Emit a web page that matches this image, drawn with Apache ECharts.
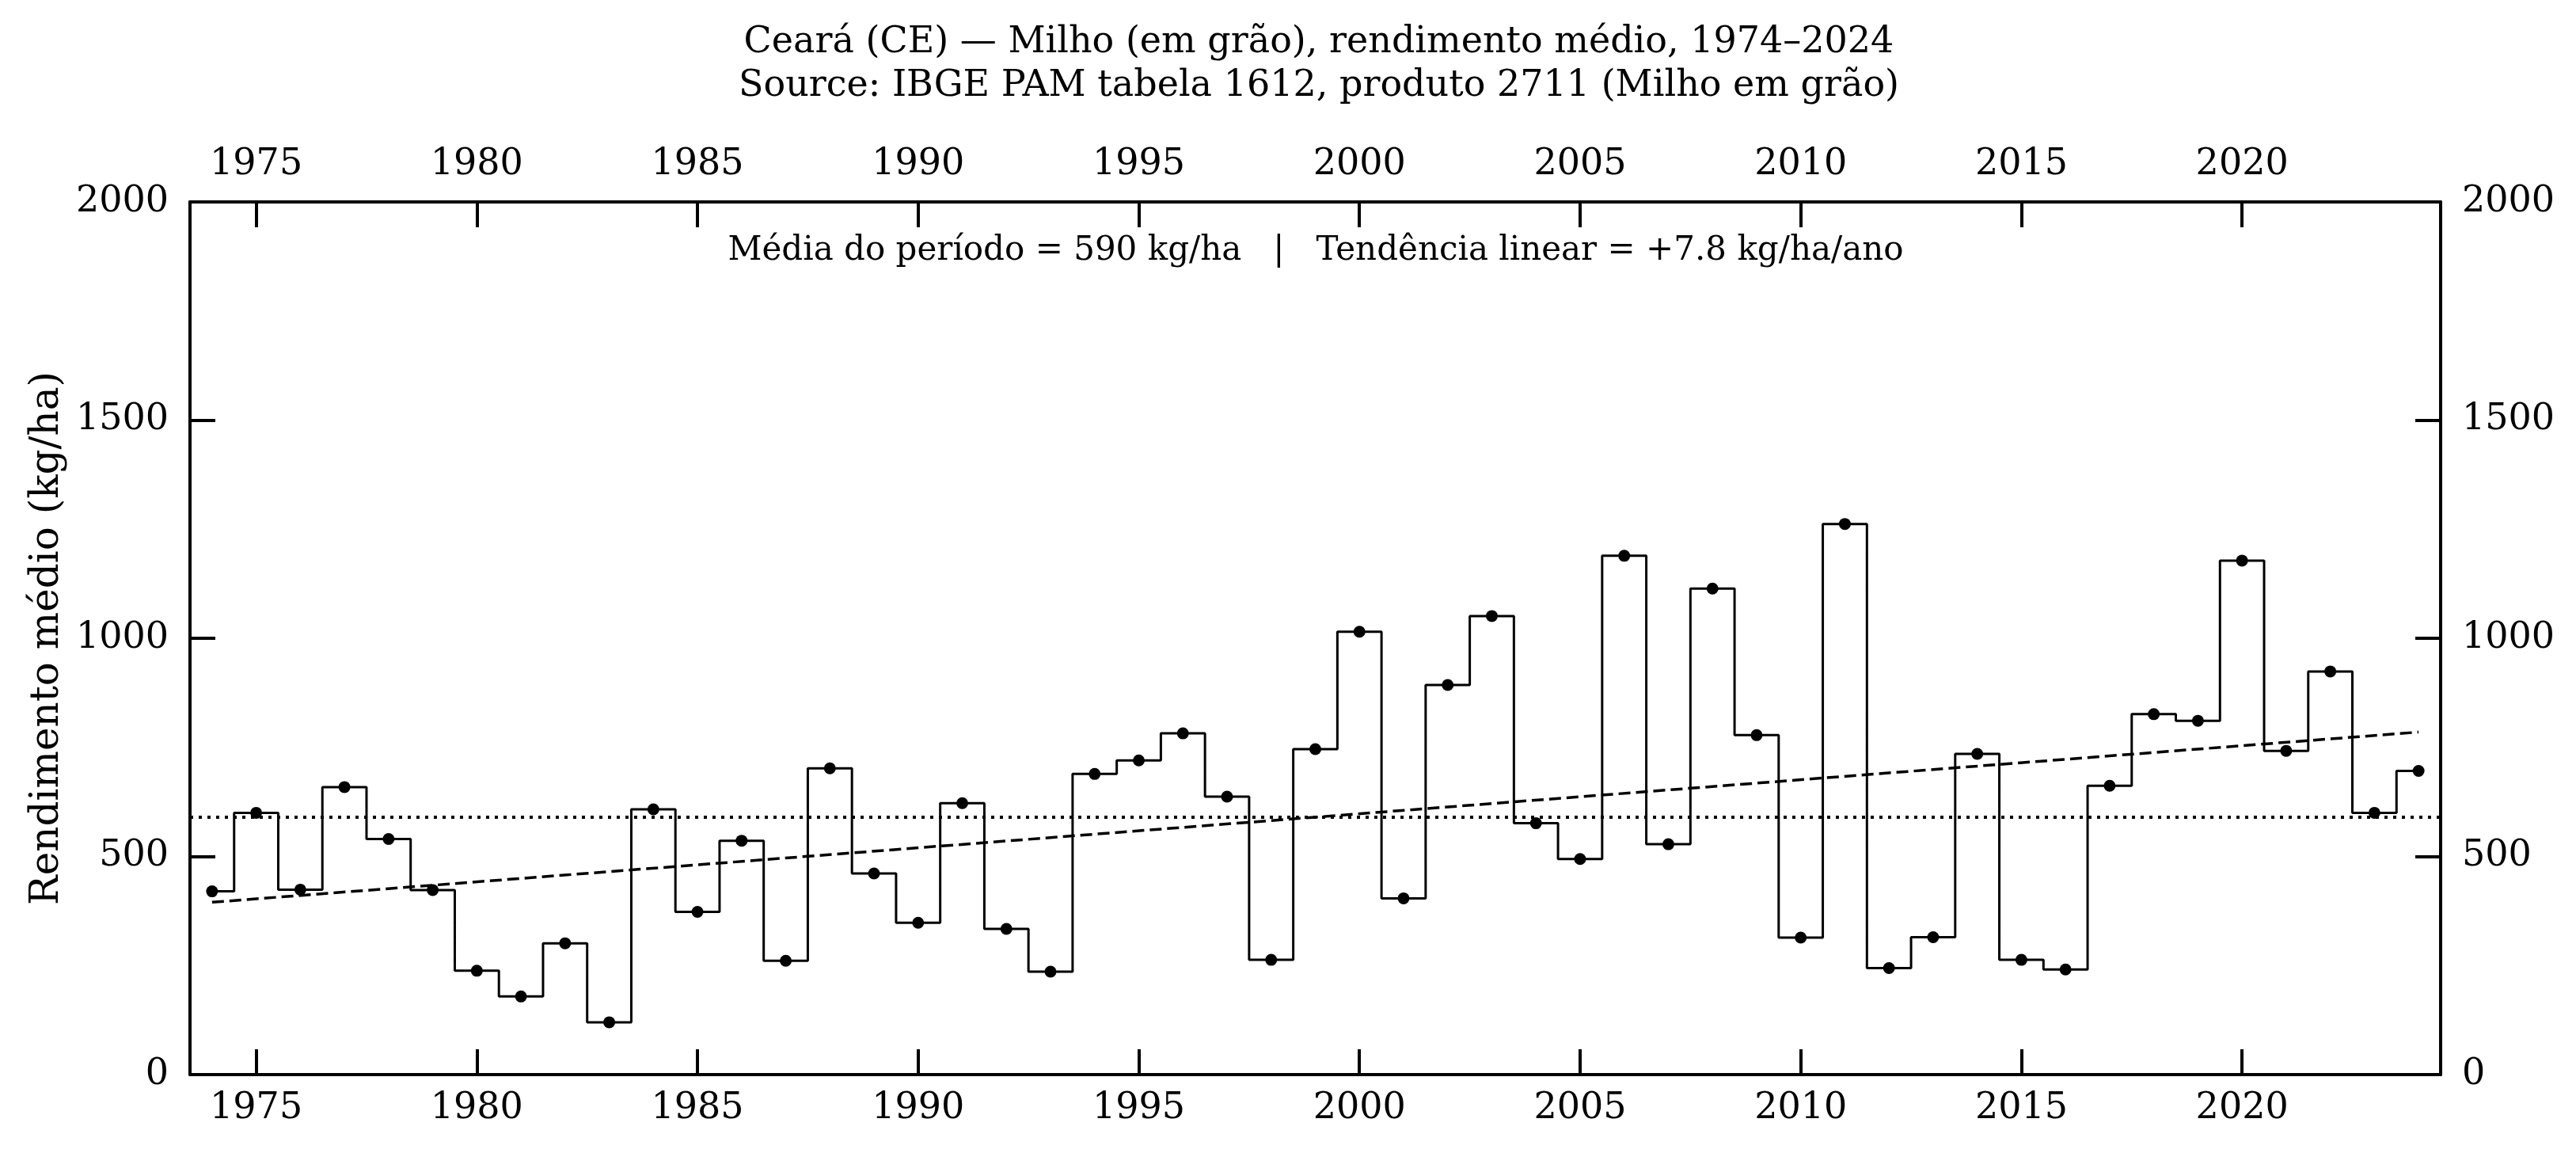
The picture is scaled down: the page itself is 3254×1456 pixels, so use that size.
<!DOCTYPE html>
<html>
<head>
<meta charset="utf-8">
<script src="https://cdn.jsdelivr.net/npm/echarts@6/dist/echarts.min.js"></script>
<style>
  html, body { margin: 0; padding: 0; background: #fff; }
  #chart { width: 3254px; height: 1456px; }
</style>
</head>
<body>
<div id="chart"></div>
<script>
const years = [1974, 1975, 1976, 1977, 1978, 1979, 1980, 1981, 1982, 1983,
  1984, 1985, 1986, 1987, 1988, 1989, 1990, 1991, 1992, 1993,
  1994, 1995, 1996, 1997, 1998, 1999, 2000, 2001, 2002, 2003,
  2004, 2005, 2006, 2007, 2008, 2009, 2010, 2011, 2012, 2013,
  2014, 2015, 2016, 2017, 2018, 2019, 2020, 2021, 2022, 2023, 2024]
const yields = [420, 600, 424, 659, 540, 423, 238, 179, 301, 120,
  608, 373, 536, 261, 702, 461, 348, 622, 334, 236,
  689, 720, 782, 637, 263, 746, 1015, 404, 893, 1051,
  576, 494, 1189, 528, 1114, 778, 314, 1262, 244, 315,
  735, 263, 241, 662, 826, 811, 1178, 742, 924, 600, 696]
const meanValue = 590
const trendYears = [1974, 2024]
const trendValues = [395, 785]
const xTicks = [1975, 1980, 1985, 1990, 1995, 2000, 2005, 2010, 2015, 2020]

const font = 'DejaVu Serif'
const black = '#000'

function xAxisCfg(position, margin) {
  return {
    type: 'value',
    position: position,
    min: 1973.5,
    max: 2024.5,
    axisLine: { show: true, onZero: false, lineStyle: { color: black, width: 4 } },
    axisTick: { show: true, inside: true, length: 32, customValues: xTicks, lineStyle: { color: black, width: 4 } },
    axisLabel: {
      customValues: xTicks, margin: margin, fontFamily: font, fontSize: 46, color: black,
      formatter: v => String(v)
    },
    splitLine: { show: false }
  }
}

function yAxisCfg(position) {
  return {
    type: 'value',
    position: position,
    min: 0,
    max: 2000,
    interval: 500,
    axisLine: { show: true, onZero: false, lineStyle: { color: black, width: 4 } },
    axisTick: { show: true, inside: true, length: 32, lineStyle: { color: black, width: 4 } },
    axisLabel: { margin: 27, fontFamily: font, fontSize: 46, color: black, formatter: v => String(v) },
    splitLine: { show: false }
  }
}

let myChart = echarts.init(document.getElementById('chart'))

let leftY = yAxisCfg('left')
leftY.name = 'Rendimento médio (kg/ha)'
leftY.nameLocation = 'middle'
leftY.nameGap = 150
leftY.nameRotate = 90
leftY.nameTextStyle = { fontFamily: font, fontSize: 50, color: black }

let option = {
  animation: false,
  backgroundColor: '#fff',
  title: {
    text: 'Ceará (CE) — Milho (em grão), rendimento médio, 1974–2024\nSource: IBGE PAM tabela 1612, produto 2711 (Milho em grão)',
    left: 1661,
    top: 22,
    textAlign: 'center',
    textStyle: { fontFamily: font, fontSize: 46, fontWeight: 'normal', color: black, lineHeight: 55 }
  },
  grid: { left: 240, right: 171, top: 255, bottom: 99, containLabel: false },
  xAxis: [xAxisCfg('bottom', 20), xAxisCfg('top', 24)],
  yAxis: [leftY, yAxisCfg('right')],
  graphic: [
    {
      type: 'text',
      x: 1662,
      y: 296,
      style: {
        text: 'Média do período = 590 kg/ha   |   Tendência linear = +7.8 kg/ha/ano',
        fontFamily: font,
        fontSize: 42,
        fill: black,
        align: 'center',
        verticalAlign: 'top'
      }
    }
  ],
  series: [
    {
      name: 'rendimento',
      type: 'line',
      xAxisIndex: 0,
      yAxisIndex: 0,
      step: 'middle',
      data: years.map((y, i) => [y, yields[i]]),
      symbol: 'circle',
      symbolSize: 15,
      showAllSymbol: true,
      lineStyle: { color: black, width: 3 },
      itemStyle: { color: black },
      markLine: {
        silent: true,
        symbol: 'none',
        label: { show: false },
        lineStyle: { color: black, width: 4, type: [4, 7] },
        data: [{ yAxis: meanValue }]
      }
    },
    {
      name: 'tendência',
      type: 'line',
      xAxisIndex: 0,
      yAxisIndex: 0,
      data: trendYears.map((y, i) => [y, trendValues[i]]),
      symbol: 'none',
      lineStyle: { color: black, width: 3.5, type: [15, 7] }
    }
  ]
}
myChart.setOption(option)
</script>
</body>
</html>
